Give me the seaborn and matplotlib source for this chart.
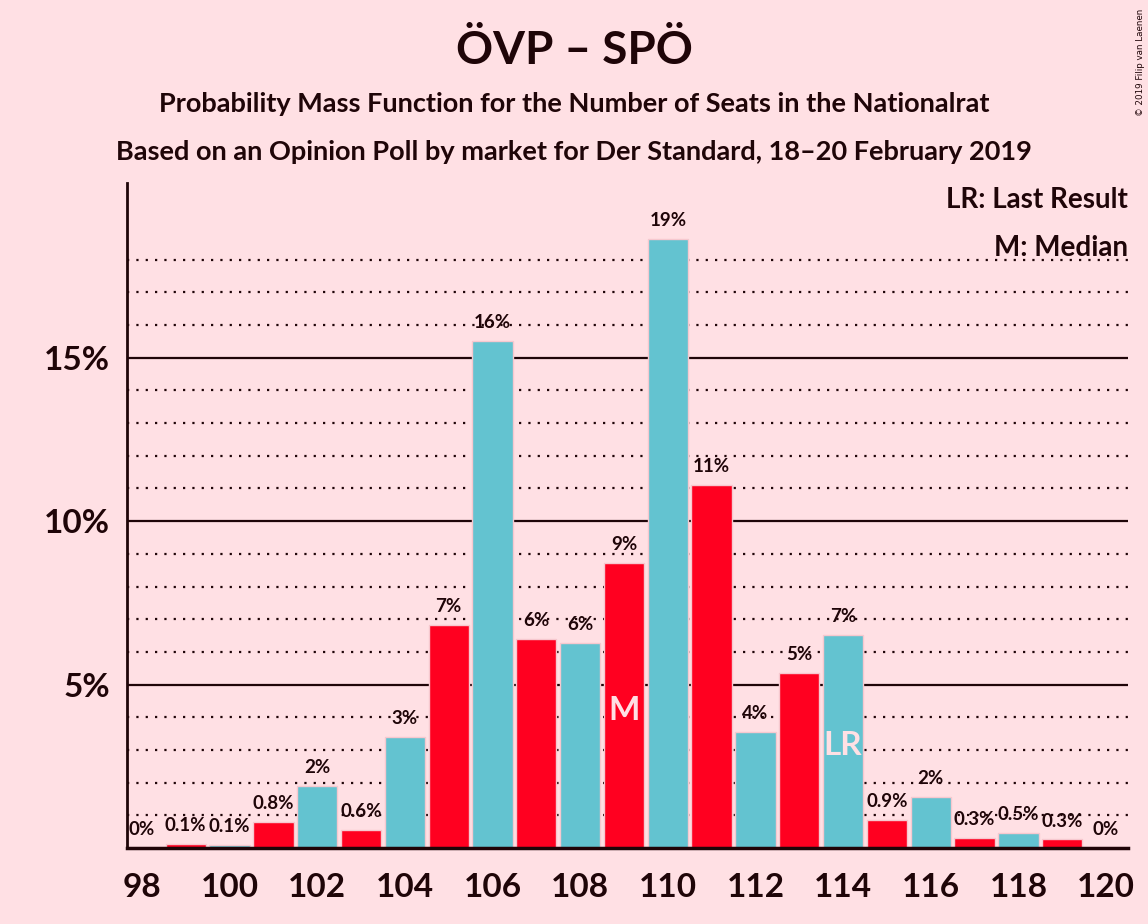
import matplotlib
matplotlib.use("Agg")
import matplotlib.pyplot as plt
import seaborn as sns
import numpy as np
import pandas as pd

seats = list(range(98, 121))
probs = [0.0, 0.12, 0.1, 0.8, 1.9, 0.55, 3.4, 6.83, 15.52, 6.4, 6.27, 8.72,
         18.64, 11.11, 3.55, 5.36, 6.52, 0.86, 1.56, 0.31, 0.46, 0.26, 0.0]
labels = ["0%", "0.1%", "0.1%", "0.8%", "2%", "0.6%", "3%", "7%", "16%", "6%", "6%", "9%",
          "19%", "11%", "4%", "5%", "7%", "0.9%", "2%", "0.3%", "0.5%", "0.3%", "0%"]
median_seat = 109
last_result_seat = 114
xticks = list(range(98, 121, 2))
yticks = [5, 10, 15]
ytick_labels = ["5%", "10%", "15%"]

BG = "#FFE0E4"
RED = "#FF0020"
CYAN = "#63C3D0"
TXT = "#1F0508"

sns.set_theme(style="white")
plt.rcParams["font.family"] = ["Lato", "DejaVu Sans"]

df = pd.DataFrame({"seats": seats, "prob": probs,
                   "grp": ["odd" if s % 2 else "even" for s in seats]})

fig = plt.figure(figsize=(11.48, 9.24), dpi=100, facecolor=BG)
ax = fig.add_axes([0.1106, 0.0823, 0.872, 0.7197])
ax.set_facecolor(BG)

# gridlines
for g in np.arange(1, 19, 1):
    if g % 5 == 0:
        ax.axhline(g, color=TXT, lw=1.6, zorder=0)
    else:
        ax.axhline(g, color=TXT, lw=1.6, ls=(0, (1, 3.2)), zorder=0)

sns.barplot(data=df, x="seats", y="prob", hue="grp", palette={"odd": RED, "even": CYAN},
            native_scale=True, width=0.92, dodge=False, legend=False, ax=ax,
            saturation=1, edgecolor="#F6C8CF", linewidth=1, zorder=2)

for s, p, l in zip(seats, probs, labels):
    ax.text(s, p + 0.3, l, ha="center", va="bottom", fontsize=13.5, fontweight="bold",
            color=TXT, zorder=3)

ax.text(median_seat, 4.2, "M", ha="center", va="center", fontsize=24, fontweight="bold",
        color=BG, zorder=4)
ax.text(last_result_seat, 3.15, "LR", ha="center", va="center", fontsize=24, fontweight="bold",
        color=BG, zorder=4)

ax.set_xlim(97.66, 120.5)
ax.set_ylim(0, 20.35)
ax.set_xticks(xticks)
ax.set_xticklabels([str(x) for x in xticks], fontsize=24, fontweight="bold", color=TXT)
ax.set_yticks(yticks)
ax.set_yticklabels(ytick_labels, fontsize=24, fontweight="bold", color=TXT)
ax.tick_params(axis="x", length=0, pad=18)
ax.tick_params(axis="y", length=0, pad=12)
ax.set_xlabel("")
ax.set_ylabel("")
for side in ["top", "right"]:
    ax.spines[side].set_visible(False)
ax.spines["left"].set_color(TXT)
ax.spines["bottom"].set_color(TXT)
ax.spines["left"].set_linewidth(2)
ax.spines["bottom"].set_linewidth(2.5)

ax.text(0.9995, 0.974, "LR: Last Result", transform=ax.transAxes, ha="right", va="center",
        fontsize=20, fontweight="bold", color=TXT, zorder=5)
ax.text(0.9995, 0.902, "M: Median", transform=ax.transAxes, ha="right", va="center",
        fontsize=20, fontweight="bold", color=TXT, zorder=5)

fig.text(0.5, 0.945, "ÖVP – SPÖ", ha="center", va="center", fontsize=33, fontweight="bold", color=TXT)
fig.text(0.5, 0.887, "Probability Mass Function for the Number of Seats in the Nationalrat",
         ha="center", va="center", fontsize=19.5, fontweight="bold", color=TXT)
fig.text(0.5, 0.835, "Based on an Opinion Poll by market for Der Standard, 18–20 February 2019",
         ha="center", va="center", fontsize=19.5, fontweight="bold", color=TXT)
fig.text(0.9935, 0.932, "© 2019 Filip van Laenen", rotation=90, ha="center", va="center",
         fontsize=6.3, color=TXT, family=["DejaVu Sans"])

fig.savefig("out.png", dpi=100, facecolor=BG)
